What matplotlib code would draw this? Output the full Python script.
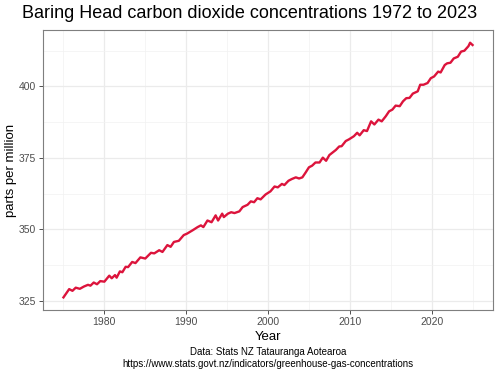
import matplotlib
matplotlib.use("Agg")
import matplotlib.pyplot as plt
from matplotlib.ticker import MultipleLocator

# Values (decimal year, ppm)
years = [1975.0, 1975.7, 1976.1, 1976.5, 1977.0, 1977.5, 1978.0, 1978.3, 1978.7, 1979.1,
         1979.5, 1980.0, 1980.6, 1980.9, 1981.3, 1981.5, 1981.9, 1982.2, 1982.6, 1982.9,
         1983.4, 1983.8, 1984.4, 1985.0, 1985.7, 1986.1, 1986.7, 1987.1, 1987.7, 1988.1,
         1988.5, 1989.1, 1989.7, 1990.1, 1990.8, 1991.4, 1991.8, 1992.1, 1992.6, 1993.1,
         1993.6, 1993.9, 1994.4, 1994.6, 1995.1, 1995.5, 1995.9, 1996.5, 1996.9, 1997.5,
         1997.9, 1998.3, 1998.7, 1999.1, 1999.7, 2000.3, 2000.8, 2001.2, 2001.7, 2002.0,
         2002.5, 2002.9, 2003.4, 2003.8, 2004.2, 2004.6, 2005.0, 2005.4, 2005.8, 2006.3,
         2006.7, 2007.1, 2007.5, 2007.9, 2008.3, 2008.7, 2009.0, 2009.5, 2009.9, 2010.5,
         2010.9, 2011.2, 2011.7, 2012.1, 2012.6, 2013.0, 2013.5, 2013.9, 2014.4, 2014.8,
         2015.2, 2015.6, 2016.1, 2016.5, 2016.9, 2017.3, 2017.7, 2018.3, 2018.6, 2019.0,
         2019.5, 2019.9, 2020.3, 2020.8, 2021.1, 2021.6, 2021.9, 2022.3, 2022.7, 2023.2,
         2023.6, 2024.0, 2024.5, 2024.7, 2025.0]
ppm = [326.2, 329.1, 328.5, 329.6, 329.2, 330.0, 330.6, 330.3, 331.4, 330.8,
       331.9, 331.7, 333.8, 332.9, 334.0, 333.1, 335.3, 335.0, 336.9, 336.8,
       338.6, 338.2, 340.2, 339.8, 341.8, 341.6, 342.7, 342.1, 344.5, 343.9,
       345.6, 346.0, 348.0, 348.5, 349.7, 350.8, 351.4, 350.8, 353.1, 352.5,
       354.9, 353.1, 355.5, 354.3, 355.5, 356.0, 355.7, 356.3, 357.8, 358.6,
       359.8, 359.5, 360.9, 360.5, 362.2, 363.3, 365.0, 364.7, 365.9, 365.5,
       367.0, 367.6, 368.2, 367.8, 368.2, 369.9, 371.7, 372.3, 373.4, 373.4,
       375.1, 374.0, 376.0, 376.9, 377.8, 379.0, 379.1, 380.9, 381.5, 382.6,
       383.8, 382.9, 384.7, 384.4, 387.8, 386.7, 388.4, 387.8, 389.6, 391.3,
       391.9, 393.3, 393.1, 394.8, 395.9, 396.0, 397.5, 398.3, 400.6, 400.6,
       401.2, 402.9, 403.5, 405.2, 404.9, 407.5, 408.1, 408.3, 409.8, 410.4,
       412.2, 412.5, 414.1, 415.3, 414.5]

plt.rcParams["font.family"] = ["Liberation Sans", "DejaVu Sans"]

fig = plt.figure(figsize=(5, 3.75), dpi=100)
ax = fig.add_axes([0.086, 0.173, 0.9, 0.747])

ax.plot(years, ppm, color="#DC143C", linewidth=1.7, solid_joinstyle="round")

# ggplot-like expansion
xr = max(years) - min(years)
yr = max(ppm) - min(ppm)
ax.set_xlim(min(years) - 0.05 * xr, max(years) + 0.05 * xr)
ax.set_ylim(min(ppm) - 0.05 * yr, max(ppm) + 0.05 * yr)

ax.xaxis.set_major_locator(MultipleLocator(10))
ax.xaxis.set_minor_locator(MultipleLocator(5))
ax.yaxis.set_major_locator(MultipleLocator(25))
ax.yaxis.set_minor_locator(MultipleLocator(12.5))

ax.grid(which="major", color="#EBEBEB", linewidth=0.9)
ax.grid(which="minor", color="#F2F2F2", linewidth=0.5)
ax.set_axisbelow(True)

for s in ax.spines.values():
    s.set_color("#7F7F7F")
    s.set_linewidth(0.8)

ax.tick_params(which="major", length=3, width=0.6, color="#333333",
               labelsize=7.5, labelcolor="#4D4D4D", pad=2)
ax.tick_params(which="minor", length=0)

ax.set_xlabel("Year", fontsize=9.5, labelpad=3)
ax.set_ylabel("parts per million", fontsize=9.5, labelpad=1)

fig.text(0.5, 0.965, "Baring Head carbon dioxide concentrations 1972 to 2023",
         ha="center", va="center", fontsize=13)
fig.text(0.536, 0.045,
         "Data: Stats NZ Tatauranga Aotearoa\n"
         "https://www.stats.govt.nz/indicators/greenhouse-gas-concentrations",
         ha="center", va="center", fontsize=7, linespacing=1.2)

fig.savefig("out.png", dpi=100)
